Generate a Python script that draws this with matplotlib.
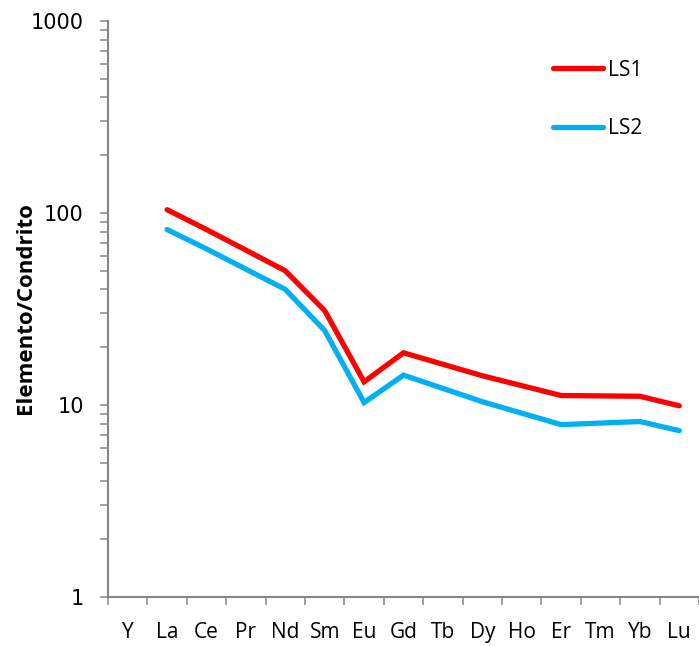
import numpy as np
import matplotlib
matplotlib.use("Agg")
import matplotlib.pyplot as plt
from matplotlib.ticker import FixedLocator, LogLocator, NullFormatter, FixedFormatter

# Chondrite-normalised REE patterns
elements = ["Y", "La", "Ce", "Pr", "Nd", "Sm", "Eu", "Gd", "Tb", "Dy", "Ho", "Er", "Tm", "Yb", "Lu"]
ls1 = [None, 104.0, 82.0, None, 50.0, 31.0, 13.2, 18.7, None, 14.2, None, 11.2, None, 11.1, 9.9]
ls2 = [None, 82.0, 65.0, None, 40.0, 24.4, 10.3, 14.3, None, 10.4, None, 7.9, None, 8.2, 7.35]
series_names = ["LS1", "LS2"]
series_colors = ["#FF0000", "#00B0F0"]

W, H = 699, 646
fig = plt.figure(figsize=(W / 100, H / 100), dpi=100)
ax = fig.add_axes([0.1545, 0.0759, 0.8455, 0.8916])

axis_grey = "#868686"
label_font = ["Open Sans", "DejaVu Sans"]

x = np.arange(len(elements))
handles = []
for name, vals, col in zip(series_names, [ls1, ls2], series_colors):
    xs = [xi for xi, v in zip(x, vals) if v is not None]
    ys = [v for v in vals if v is not None]
    h, = ax.plot(xs, ys, color=col, lw=3.8, solid_joinstyle="miter",
                 solid_capstyle="round", label=name)
    handles.append(h)

ax.set_yscale("log")
ax.set_ylim(1, 1000)
ax.set_xlim(-0.5, len(elements) - 0.5)

# y axis: decades labelled, minor ticks outside
ax.yaxis.set_major_locator(FixedLocator([1, 10, 100, 1000]))
ax.yaxis.set_major_formatter(FixedFormatter(["1", "10", "100", "1000"]))
ax.yaxis.set_minor_locator(LogLocator(base=10, subs=np.arange(2, 10)))
ax.yaxis.set_minor_formatter(NullFormatter())
ax.tick_params(axis="y", which="both", direction="out", length=5.5, width=1.1,
               color=axis_grey, labelsize=15, pad=12)

# x axis: ticks on category boundaries, labels at category centres
ax.xaxis.set_major_locator(FixedLocator(np.arange(-0.5, len(elements), 1.0)))
ax.xaxis.set_major_formatter(NullFormatter())
ax.xaxis.set_minor_locator(FixedLocator(x))
ax.xaxis.set_minor_formatter(FixedFormatter(elements))
ax.tick_params(axis="x", which="major", direction="out", length=5.5, width=1.1,
               color=axis_grey)
ax.tick_params(axis="x", which="minor", length=0, labelsize=15, pad=18)
for lbl in ax.get_xticklabels(minor=True):
    lbl.set_fontfamily(label_font)

for side in ["top", "right"]:
    ax.spines[side].set_visible(False)
for side in ["left", "bottom"]:
    ax.spines[side].set_color(axis_grey)
    ax.spines[side].set_linewidth(1.5)

ax.set_ylabel("Elemento/Condrito", fontsize=16, fontweight="bold", family=label_font)
ax.yaxis.set_label_coords(-0.122, 0.502)

leg = fig.legend(handles=handles, loc="center left",
                 bbox_to_anchor=(552.5 / W, 1 - 99.5 / H), bbox_transform=fig.transFigure,
                 frameon=False, handlelength=2.4, handletextpad=0.25,
                 labelspacing=1.8, borderpad=0, borderaxespad=0,
                 prop={"family": label_font, "size": 15})
for lh in leg.get_lines():
    lh.set_linewidth(3.8)
    lh.set_solid_capstyle("round")

fig.savefig("out.png", dpi=100)
